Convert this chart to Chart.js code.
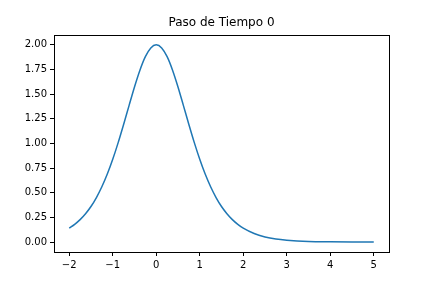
<!DOCTYPE html>
<html>
<head>
<meta charset="utf-8">
<script src="https://cdn.jsdelivr.net/npm/chart.js@4"></script>
<style>
  html, body { margin: 0; padding: 0; background: #fff; }
  #wrap { width: 432px; height: 288px; }
</style>
</head>
<body>
<div id="wrap"><canvas id="chart" width="432" height="288"></canvas></div>
<script>
const xValues = [-2, -1.875, -1.75, -1.625, -1.5, -1.375, -1.25, -1.125, -1, -0.875, -0.75, -0.625, -0.5, -0.375, -0.25, -0.125,
    0, 0.125, 0.25, 0.375, 0.5, 0.625, 0.75, 0.875, 1, 1.125, 1.25, 1.375, 1.5, 1.625, 1.75, 1.875,
    2, 2.25, 2.5, 2.75, 3, 3.5, 4, 4.5, 5];
const yValues = [0.141, 0.180, 0.228, 0.288, 0.361, 0.452, 0.561, 0.690, 0.840, 1.009, 1.193, 1.384, 1.573, 1.743, 1.880, 1.969,
    2.0, 1.969, 1.880, 1.743, 1.573, 1.384, 1.193, 1.009, 0.840, 0.690, 0.561, 0.452, 0.361, 0.288, 0.228, 0.180,
    0.141, 0.087, 0.053, 0.032, 0.020, 0.007, 0.003, 0.001, 0.0004];
const xTicks = [-2, -1, 0, 1, 2, 3, 4, 5];
const yTicks = [0, 0.25, 0.5, 0.75, 1, 1.25, 1.5, 1.75, 2];
const title = 'Paso de Tiempo 0';

const font = 'DejaVu Sans';

// matplotlib style frame + title
const framePlugin = {
    id: 'frame',
    afterDraw(chart) {
        const ctx = chart.ctx;
        const a = chart.chartArea;
        ctx.save();
        ctx.strokeStyle = '#000';
        ctx.lineWidth = 1;
        ctx.strokeRect(Math.round(a.left) + 0.5, Math.round(a.top) + 0.5,
            Math.round(a.right - a.left), Math.round(a.bottom - a.top));
        ctx.fillStyle = '#000';
        ctx.font = '12px "' + font + '"';
        ctx.textAlign = 'center';
        ctx.textBaseline = 'alphabetic';
        ctx.fillText(title, (a.left + a.right) / 2, a.top - 9);
        ctx.restore();
    }
};

const points = xValues.map((x, i) => ({ x: x, y: yValues[i] }));

new Chart(document.getElementById('chart'), {
    type: 'line',
    data: {
        datasets: [{
            data: points,
            borderColor: '#1f77b4',
            borderWidth: 1.5,
            pointRadius: 0,
            cubicInterpolationMode: 'monotone',
            fill: false
        }]
    },
    options: {
        responsive: false,
        animation: false,
        layout: { padding: { left: 0, right: 43, top: 35, bottom: 0 } },
        plugins: {
            legend: { display: false },
            tooltip: { enabled: false }
        },
        scales: {
            x: {
                type: 'linear',
                min: -2.35,
                max: 5.35,
                afterBuildTicks: s => { s.ticks = xTicks.map(v => ({ value: v })); },
                afterFit: s => { s.height = 36; },
                grid: { drawOnChartArea: false, drawTicks: true, tickLength: 4, color: '#000' },
                border: { display: true, color: '#000' },
                ticks: {
                    color: '#000',
                    font: { family: font, size: 10 },
                    padding: 3,
                    maxRotation: 0,
                    callback: v => String(v).replace('-', '\u2212')
                }
            },
            y: {
                type: 'linear',
                min: -0.1,
                max: 2.1,
                afterBuildTicks: s => { s.ticks = yTicks.map(v => ({ value: v })); },
                afterFit: s => { s.width = 54; },
                grid: { drawOnChartArea: false, drawTicks: true, tickLength: 4, color: '#000' },
                border: { display: true, color: '#000' },
                ticks: {
                    color: '#000',
                    font: { family: font, size: 10 },
                    padding: 3,
                    callback: v => v.toFixed(2)
                }
            }
        }
    },
    plugins: [framePlugin]
});
</script>
</body>
</html>
